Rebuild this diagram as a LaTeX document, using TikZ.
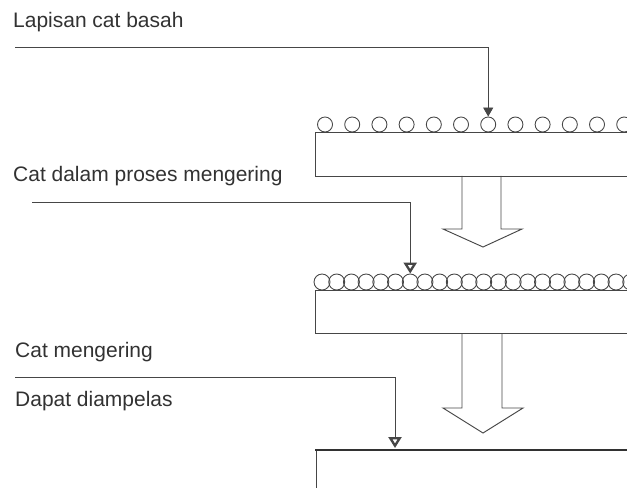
\documentclass[tikz,border=0pt]{standalone}
\usepackage{fontspec}
\setmainfont{Liberation Sans}
\usepackage{xcolor}
\definecolor{ink}{RGB}{50,50,50}
\definecolor{lead}{RGB}{70,70,70}
\usetikzlibrary{arrows.meta,positioning,calc}

\begin{document}
\begin{tikzpicture}[
  x=0.03cm, y=-0.03cm,
  caption/.style={anchor=base west,inner sep=0pt,
                  font=\fontsize{17.9}{20}\selectfont,text=ink},
  wire/.style={draw=lead,line width=0.75pt},
  drop/.style={-{Triangle[length=0.27cm,width=0.3cm]}},
  dropopen/.style={-{Triangle[open,length=0.33cm,width=0.39cm,line width=2pt]}},
  bead/.style={circle,draw=lead,line width=0.75pt,inner sep=0pt},
  slab/.style={draw=lead,line width=0.75pt},
  chute/.style={draw=lead,line width=0.8pt,line join=miter},
]
  \useasboundingbox (0,0) rectangle (627,488);

  %% labels
  \node[caption](wet) at (13,28) {Lapisan cat basah};
  \node[caption](drying) at (13,182) {Cat dalam proses mengering};
  \node[caption](dry) at (15,357) {Cat mengering};
  \node[caption](sand) at (15,406) {Dapat diampelas};

  %% wet coat: loose beads
  \draw[slab] (630,132) -- (315,132) -- (315,176) -- (630,176);
  \foreach \i in {0,...,11}{%
    \node[bead,minimum size=0.45cm](w\i) at (325+27.2*\i,124.5) {};
  }

  %% drying coat: packed beads
  \draw[slab] (630,290) -- (315,290) -- (315,333) -- (630,333);
  \foreach \i in {0,...,21}{%
    \node[bead,minimum size=0.48cm](d\i) at (322+14.7*\i,282) {};
  }

  %% dry coat: solid film
  \draw[slab] (316,488) -- (316,450);
  \draw[ink,line width=2.4pt] (315,450) -- (630,450);
  \coordinate (hard) at (395,448);

  %% hollow arrows between stages
  \draw[chute] (462,176) -- (462,229) -- (443,229) -- (483,247)
    -- (522,229) -- (501,229) -- (501,176);
  \draw[chute] (462,333) -- (462,408) -- (443,408) -- (483,433)
    -- (523,408) -- (502,408) -- (502,333);

  %% leaders
  \coordinate (wetfoot) at (15,47);
  \coordinate (dryingfoot) at (32,202);
  \coordinate (dryfoot) at (15,377);
  \draw[wire,drop] (wetfoot) -| (w6.north);
  \draw[wire,dropopen] (dryingfoot) -| (d6.north);
  \draw[wire,dropopen] (dryfoot) -| (hard);
\end{tikzpicture}
\end{document}
